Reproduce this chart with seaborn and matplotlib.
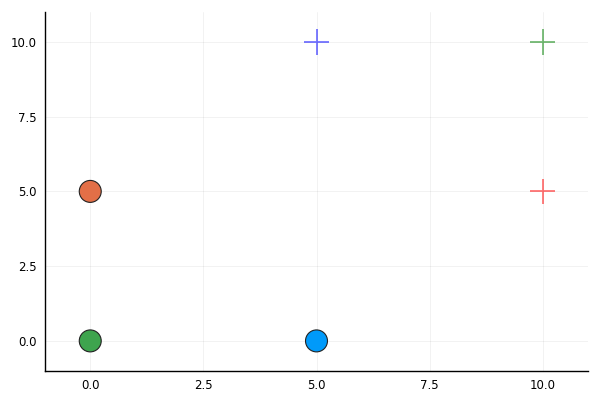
import pandas as pd
import seaborn as sns
import matplotlib.pyplot as plt

circle_x = [5, 0, 0]
circle_y = [0, 5, 0]
circle_names = ["a", "b", "c"]
circle_colors = ["#009AFA", "#E36F47", "#3EA44E"]

cross_x = [5, 10, 10]
cross_y = [10, 5, 10]
cross_names = ["d", "e", "f"]
cross_colors = ["blue", "red", "green"]

xticks = [0.0, 2.5, 5.0, 7.5, 10.0]
yticks = [0.0, 2.5, 5.0, 7.5, 10.0]

sns.set_style("white")
plt.rcParams['font.family'] = ['DejaVu Sans']
fig, ax = plt.subplots(figsize=(6, 4), dpi=100)
fig.subplots_adjust(left=0.075, right=0.98, top=0.97, bottom=0.073)

circles = pd.DataFrame({"x": circle_x, "y": circle_y, "name": circle_names})
crosses = pd.DataFrame({"x": cross_x, "y": cross_y, "name": cross_names})

sns.scatterplot(data=circles, x="x", y="y", hue="name", palette=circle_colors,
                s=250, edgecolor="#222222", linewidth=0.8, legend=False, ax=ax, zorder=3)
sns.scatterplot(data=crosses, x="x", y="y", hue="name", palette=cross_colors,
                marker="+", s=330, linewidth=1.3, alpha=0.55, legend=False, ax=ax, zorder=3)

ax.set_xlim(-1, 11)
ax.set_ylim(-1, 11)
ax.set_xticks(xticks)
ax.set_yticks(yticks)
ax.set_xticklabels([f"{t:.1f}" for t in xticks])
ax.set_yticklabels([f"{t:.1f}" for t in yticks])
ax.set_xlabel("")
ax.set_ylabel("")
ax.grid(True, color="black", alpha=0.05, linewidth=0.7)
ax.tick_params(direction="in", length=4, width=0.8, labelsize=8.5, colors="black", pad=6)
for side in ["top", "right"]:
    ax.spines[side].set_visible(False)
for side in ["left", "bottom"]:
    ax.spines[side].set_color("black")
    ax.spines[side].set_linewidth(1.0)

fig.savefig("out.png")
